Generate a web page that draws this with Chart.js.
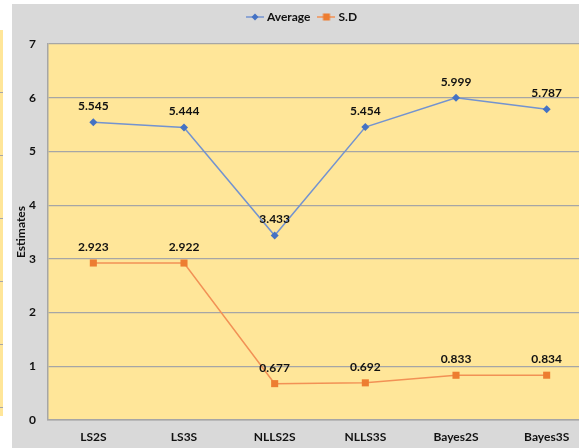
<!DOCTYPE html>
<html>
<head>
<meta charset="utf-8">
<script src="https://cdn.jsdelivr.net/npm/chart.js@4"></script>
<style>
  html, body { margin: 0; padding: 0; background: #fff; overflow: hidden; }
  #bg { position: absolute; left: 12px; top: 4px; width: 600px; height: 444px; background: #d9d9d9; }
  #strip {
    position: absolute; left: 0; top: 30px; width: 3px; height: 386px;
    background: repeating-linear-gradient(to bottom, #ffe699 0px, #ffe699 62px, #a6a6a6 62px, #a6a6a6 63px);
  }
  #wrap { position: absolute; left: 0; top: 0; width: 600px; height: 448px; }
</style>
</head>
<body>
<div id="bg"></div>
<div id="strip"></div>
<div id="wrap"><canvas id="chart"></canvas></div>
<script>
const categories = ['LS2S', 'LS3S', 'NLLS2S', 'NLLS3S', 'Bayes2S', 'Bayes3S'];
const averageValues = [5.545, 5.444, 3.433, 5.454, 5.999, 5.787];
const sdValues = [2.923, 2.922, 0.677, 0.692, 0.833, 0.834];
const yTicks = [0, 1, 2, 3, 4, 5, 6, 7];

const FONT = 'Lato, "Open Sans", sans-serif';

// little line + marker icons for the legend
function legendIcon(lineColor, markColor, shape) {
    const c = document.createElement('canvas');
    c.width = 18; c.height = 10;
    const g = c.getContext('2d');
    g.strokeStyle = lineColor;
    g.lineWidth = 1.5;
    g.beginPath(); g.moveTo(0, 5); g.lineTo(18, 5); g.stroke();
    g.fillStyle = markColor;
    if (shape === 'diamond') {
        g.beginPath(); g.moveTo(9, 1.5); g.lineTo(12.5, 5); g.lineTo(9, 8.5); g.lineTo(5.5, 5); g.closePath(); g.fill();
    } else {
        g.fillRect(5.5, 1.5, 7, 7);
    }
    return c;
}

const plotBg = {
    id: 'plotBg',
    beforeDraw(chart) {
        const { ctx, chartArea: a } = chart;
        ctx.save();
        ctx.fillStyle = '#ffe699';
        ctx.fillRect(a.left, a.top, a.right - a.left, a.bottom - a.top);
        ctx.restore();
    }
};

// pull the legend back up to the top edge, a bit right of centre
const legendPos = {
    id: 'legendPos',
    afterLayout(chart) {
        const lg = chart.legend;
        if (!lg) return;
        const h = lg.height;
        lg.top = 1;
        lg.bottom = 1 + h;
        lg.left += 14;
    }
};

const valueLabels = {
    id: 'valueLabels',
    afterDatasetsDraw(chart) {
        const ctx = chart.ctx;
        ctx.save();
        ctx.font = 'bold 12px ' + FONT;
        ctx.fillStyle = '#111';
        ctx.textAlign = 'center';
        ctx.textBaseline = 'middle';
        chart.data.datasets.forEach((ds, i) => {
            chart.getDatasetMeta(i).data.forEach((pt, j) => {
                ctx.fillText(ds.data[j].toFixed(3), pt.x, pt.y - 16);
            });
        });
        ctx.restore();
    }
};

document.addEventListener('DOMContentLoaded', () => {
    const ctx = document.getElementById('chart').getContext('2d');
    new Chart(ctx, {
        type: 'line',
        data: {
            labels: categories,
            datasets: [
                {
                    label: 'Average',
                    data: averageValues,
                    borderColor: '#7393d0',
                    borderWidth: 1.5,
                    pointStyle: 'rectRot',
                    pointRadius: 4,
                    pointBackgroundColor: '#4472c4',
                    pointBorderWidth: 0,
                    tension: 0
                },
                {
                    label: 'S.D',
                    data: sdValues,
                    borderColor: '#f29155',
                    borderWidth: 1.5,
                    pointStyle: 'rect',
                    pointRadius: 5,
                    pointBackgroundColor: '#ed7d31',
                    pointBorderWidth: 0,
                    tension: 0
                }
            ]
        },
        options: {
            responsive: true,
            maintainAspectRatio: false,
            animation: false,
            layout: { padding: { left: 0, right: 8, top: 0, bottom: 0 } },
            plugins: {
                tooltip: { enabled: false },
                legend: {
                    position: 'top',
                    labels: {
                        usePointStyle: true,
                        pointStyleWidth: 12,
                        padding: 10,
                        color: '#111',
                        font: { family: FONT, size: 12, weight: 'bold' },
                        generateLabels(chart) {
                            const icons = [
                                legendIcon('#7393d0', '#4472c4', 'diamond'),
                                legendIcon('#f29155', '#ed7d31', 'square')
                            ];
                            return chart.data.datasets.map((ds, i) => ({
                                text: ds.label,
                                pointStyle: icons[i],
                                fillStyle: ds.pointBackgroundColor,
                                strokeStyle: ds.borderColor,
                                lineWidth: 0,
                                fontColor: '#111',
                                datasetIndex: i
                            }));
                        }
                    }
                }
            },
            scales: {
                x: {
                    offset: true,
                    grid: { display: false, drawTicks: false },
                    border: { display: true, color: '#a6a6a6', width: 1.5 },
                    ticks: { color: '#111', padding: 10, font: { family: FONT, size: 12, weight: 'bold' } },
                    afterFit(s) { s.height = 28; }
                },
                y: {
                    min: 0,
                    max: 7,
                    afterBuildTicks(s) { s.ticks = yTicks.map(v => ({ value: v })); },
                    grid: { color: '#a6a6a6', lineWidth: 1.2, drawTicks: false },
                    border: { display: true, color: '#a6a6a6', width: 1.5 },
                    ticks: { color: '#111', padding: 12, font: { family: FONT, size: 12, weight: 'bold' } },
                    title: {
                        display: true,
                        text: 'Estimates',
                        color: '#111',
                        padding: { top: 14, bottom: 0 },
                        font: { family: FONT, size: 12, weight: 'bold' }
                    },
                    afterFit(s) { s.width = 48; s.paddingTop = 44; }
                }
            }
        },
        plugins: [plotBg, legendPos, valueLabels]
    });
});
</script>
</body>
</html>
